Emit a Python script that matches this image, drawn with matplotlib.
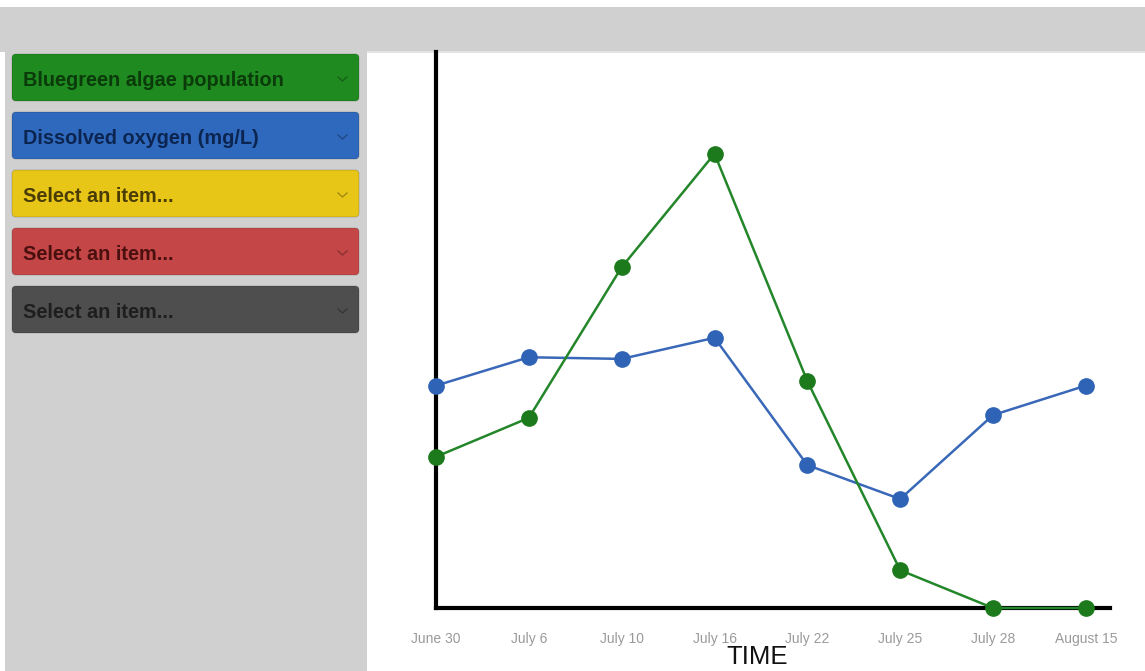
import numpy as np
import matplotlib.pyplot as plt
from matplotlib.patches import FancyBboxPatch, Rectangle
from matplotlib.lines import Line2D

# data (0 = x axis, 100 = top of plot)
dates = ["June 30", "July 6", "July 10", "July 16", "July 22", "July 25", "July 28", "August 15"]
oxygen = [40.0, 45.1, 44.8, 48.6, 25.7, 19.6, 34.7, 40.0]
algae = [27.2, 34.2, 61.3, 81.7, 40.8, 6.8, 0.0, 0.0]

menu_labels = ["Bluegreen algae population", "Dissolved oxygen (mg/L)",
               "Select an item...", "Select an item...", "Select an item..."]
menu_colors = ["#1f8a1f", "#2f69bd", "#e8c618", "#c54646", "#4e4e4e"]
menu_text = ["#0b3a0b", "#0c2550", "#4a3c05", "#4a1010", "#1e1e1e"]

W, H = 1145, 671
fig = plt.figure(figsize=(W / 100, H / 100), dpi=100)
fig.patch.set_facecolor("white")

# background "page" drawn in pixel coordinates
bg = fig.add_axes([0, 0, 1, 1])
bg.set_xlim(0, W)
bg.set_ylim(H, 0)
bg.axis("off")
bg.add_patch(Rectangle((0, 7), W, 45, color="#d0d0d0", lw=0))
bg.add_patch(Rectangle((5, 7), 362, H - 7, color="#d0d0d0", lw=0))
bg.add_patch(Rectangle((367, 51), W - 367, 2, color="#e4e4e4", lw=0))

for i, (lab, c, tc) in enumerate(zip(menu_labels, menu_colors, menu_text)):
    top = 54 + i * 58
    bg.add_patch(FancyBboxPatch((12, top), 347, 47, boxstyle="round,pad=0,rounding_size=4",
                                fc=c, ec=(0, 0, 0, 0.15), lw=0.8))
    bg.text(23, top + 26.5, lab, fontsize=14.3, fontweight="bold", color=tc,
            family=["Liberation Sans", "DejaVu Sans"], va="center", ha="left")
    bg.add_line(Line2D([338, 342.5, 347], [top + 23, top + 27, top + 23],
                       color=(0, 0, 0, 0.3), lw=1))

# chart
ax = fig.add_axes([436 / W, (H - 608) / H, (1110 - 436) / W, (608 - 52) / H])
ax.set_facecolor("none")
x = np.arange(len(dates))
ax.plot(x, oxygen, color="#3a68b8", lw=1.8, marker="o", ms=11,
        mfc="#2f63b5", mec="#2f63b5", clip_on=False, zorder=3)
ax.plot(x, algae, color="#24862a", lw=1.8, marker="o", ms=11,
        mfc="#1c7a1c", mec="#1c7a1c", clip_on=False, zorder=4)

ax.set_xlim(0, 7.26)
ax.set_ylim(0, 100)
for s in ["top", "right"]:
    ax.spines[s].set_visible(False)
for s in ["left", "bottom"]:
    ax.spines[s].set_linewidth(3)
    ax.spines[s].set_color("black")
ax.set_yticks([])
ax.set_xticks(x)
ax.set_xticklabels(dates, color="#9a9a9a", fontsize=10,
                   family=["Liberation Sans", "DejaVu Sans"])
ax.tick_params(axis="x", length=0, pad=17.5)
ax.set_xlabel("TIME", fontsize=18.5, family=["Liberation Sans", "DejaVu Sans"],
              color="#111111")
ax.xaxis.set_label_coords((757 - 436) / (1110 - 436), -0.088)
ax.xaxis.label.set_va("center")

fig.savefig("out.png", dpi=100)
